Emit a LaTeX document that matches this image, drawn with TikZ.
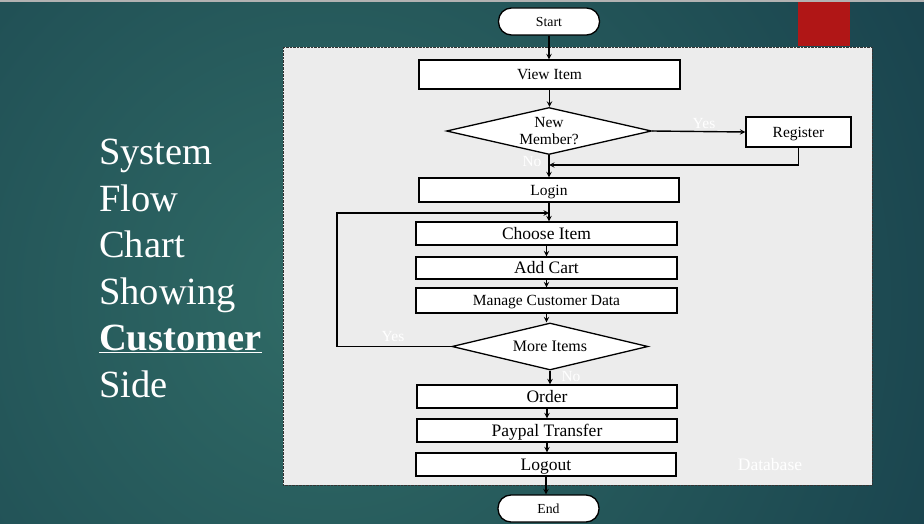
\documentclass[tikz,border=0pt]{standalone}
\usepackage{fontspec}
\setmainfont{Liberation Serif}
\usetikzlibrary{shapes.geometric}

\definecolor{bgdark}{HTML}{143A48}
\definecolor{bglight}{HTML}{306B66}
\definecolor{panelgray}{HTML}{ECECEC}
\definecolor{slidered}{HTML}{B01616}

\begin{document}
\begin{tikzpicture}[x=1pt, y=-1pt, >=stealth,
    box/.style={draw=black, line width=1.3pt, fill=white, inner sep=0pt},
    term/.style={box, rounded corners=13pt, minimum width=101pt, minimum height=27pt,
                 font=\fontsize{13.8}{16}\selectfont, text height=9.1pt, text depth=0pt},
    decision/.style={box, diamond, aspect=4.3, font=\fontsize{15.5}{18}\selectfont, align=center},
    bigtxt/.style={font=\fontsize{17.5}{20}\selectfont, text height=11.6pt, text depth=0pt},
    midtxt/.style={font=\fontsize{15.5}{18}\selectfont, text height=10.2pt, text depth=0pt},
    lbl/.style={text=white, font=\fontsize{15.5}{18}\selectfont, inner sep=0pt},
    flow/.style={->, line width=1.4pt}]
    \useasboundingbox (0,0) rectangle (924,524);

    % Slide background
    \begin{scope}
        \clip (0,0) rectangle (924,524);
        \shade[inner color=bglight, outer color=bgdark] (330,300) circle (820);
    \end{scope}
    \fill[gray!60] (0,0) rectangle (924,2);
    \fill[slidered] (798,2) rectangle (850,46);

    % Title text
    \node[text=white, anchor=north west, align=left, inner sep=0pt,
          font=\fontsize{38.5}{46.5}\selectfont] (title) at (99,139)
        {System\\Flow\\Chart\\Showing\\\underline{\textbf{Customer}}\\Side};

    % Flow chart panel
    \draw[fill=panelgray, draw=black!80, densely dotted] (283,47) rectangle (872,485);

    % Nodes
    \node[term] (start) at (549,21.5) {Start};
    \node[box, midtxt, minimum width=261pt, minimum height=29pt] (view) at (549.5,74.5) {View Item};
    \node[decision, minimum width=205pt, minimum height=47pt] (newmem) at (549,131) {New\\[-1pt]Member?};
    \node[box, midtxt, minimum width=105pt, minimum height=30pt] (reg) at (798.5,132) {Register};
    \node[box, midtxt, minimum width=260pt, minimum height=24pt] (login) at (549,190) {Login};
    \node[box, bigtxt, minimum width=261pt, minimum height=23pt] (choose) at (546.5,233.5) {Choose Item};
    \node[box, bigtxt, minimum width=261pt, minimum height=22pt] (addcart) at (546.5,268) {Add Cart};
    \node[box, midtxt, minimum width=261pt, minimum height=25pt] (manage) at (546.5,300.5) {Manage Customer Data};
    \node[decision, font=\fontsize{16}{18}\selectfont, minimum width=196pt, minimum height=47pt] (more) at (550,346.5) {More Items};
    \node[box, bigtxt, minimum width=260pt, minimum height=23pt] (order) at (547,396.5) {Order};
    \node[box, bigtxt, minimum width=260pt, minimum height=23pt] (paypal) at (547,430.5) {Paypal Transfer};
    \node[box, bigtxt, minimum width=260pt, minimum height=23pt] (logout) at (546,464.5) {Logout};
    \node[term] (end) at (548.5,508.5) {End};

    % Labels
    \node[lbl] (yes1) at (704,124) {Yes};
    \node[lbl] (no1) at (532,162) {No};
    \node[lbl] (yes2) at (393,336) {Yes};
    \node[lbl] (no2) at (571,376) {No};
    \node[lbl, font=\fontsize{17.5}{20}\selectfont] (db) at (770,465) {Database};

    % Helper points
    \coordinate (merge) at (549,165);
    \coordinate (back) at (337,213);
    \coordinate (loopin) at (549,213);

    % Arrows
    \draw[flow] (start.south) -- (start.south |- view.north);
    \draw[flow] (view.south) -- (view.south |- newmem.north);
    \draw[flow] (newmem.east) -- (reg.west);
    \draw[flow] (newmem.south) -- (newmem.south |- login.north);
    \draw[flow] (reg.south) |- (merge);
    \draw[flow] (login.south) -- (login.south |- choose.north);
    \draw[flow] (more.west) -| (back) -- (loopin);
    \draw[flow] (choose.south) -- (choose.south |- addcart.north);
    \draw[flow] (addcart.south) -- (addcart.south |- manage.north);
    \draw[flow] (manage.south) -- (manage.south |- more.north);
    \draw[flow] (more.south) -- (more.south |- order.north);
    \draw[flow] (order.south) -- (order.south |- paypal.north);
    \draw[flow] (paypal.south) -- (paypal.south |- logout.north);
    \draw[flow] (logout.south) -- (logout.south |- end.north);

\end{tikzpicture}
\end{document}
